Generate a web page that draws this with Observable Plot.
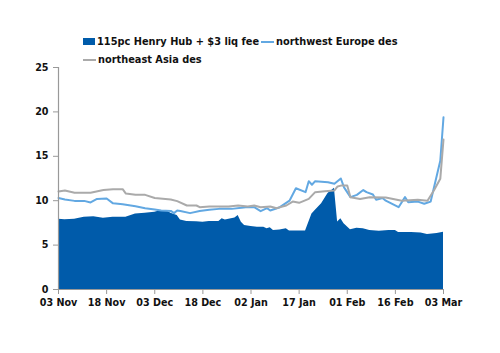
<!DOCTYPE html>
<html>
<head>
<meta charset="utf-8">
<script src="https://cdn.jsdelivr.net/npm/d3@7"></script>
<script src="https://cdn.jsdelivr.net/npm/@observablehq/plot@0.6"></script>
<style>
  html, body { margin: 0; padding: 0; background: #fff; }
  body { width: 500px; height: 353px; overflow: hidden; font-family: "DejaVu Sans", Verdana, sans-serif; }
  #legend { height: 62px; position: relative; font-weight: bold; font-size: 9.8px; color: #111; }
  .item { position: absolute; display: flex; align-items: center; white-space: nowrap; }
  .sw { display: inline-block; margin-right: 2px; }
</style>
</head>
<body>
<div id="legend"></div>
<div id="chart"></div>
<script>
// ---- data (day offsets from 03 Nov) ----
const startDate = new Date(2022, 10, 3);
const seriesNames = ["115pc Henry Hub + $3 liq fee", "northwest Europe des", "northeast Asia des"];
const seriesColors = ["#005BAA", "#62A8E2", "#AAAAAA"];

const hhDays = [0,2,5,8,11,14,17,21,24,27,30,32,34,35,37,38,40,43,45,47,50,51,52,55,56,57,58,60,62,64,65,66,67,69,71,72,77,79,80,82,84,86,87,88,89,91,93,95,97,100,103,105,106,110,113,115,118,120];
const hhVals = [7.92,7.85,7.92,8.15,8.2,8.03,8.15,8.15,8.5,8.6,8.7,8.9,8.8,8.6,8.33,7.84,7.66,7.62,7.58,7.66,7.66,7.96,7.84,8.05,8.33,7.58,7.2,7.1,7.0,7.0,6.83,6.95,6.64,6.7,6.83,6.6,6.6,8.5,8.9,9.65,10.8,11.4,7.6,7.96,7.4,6.72,6.9,6.83,6.64,6.57,6.64,6.64,6.42,6.42,6.37,6.19,6.3,6.45];

const nweDays = [0,2,5,8,10,12,15,17,20,24,27,30,32,35,36,37,38,41,44,47,50,54,57,59,61,63,65,66,69,72,74,77,78,79,80,84,86,88,89,91,93,95,96,98,99,101,102,106,108,109,112,114,116,119,120];
const nweVals = [10.3,10.13,9.98,9.98,9.8,10.2,10.25,9.7,9.6,9.38,9.15,9.0,8.9,8.85,8.6,8.9,8.85,8.6,8.85,8.97,9.08,9.08,9.2,9.3,9.27,8.82,9.16,8.9,9.27,10.0,11.4,10.96,12.2,11.8,12.2,12.08,11.9,12.5,11.5,10.4,10.66,11.2,10.96,10.7,10.1,10.3,10.0,9.27,10.4,9.83,9.9,9.65,9.9,14.5,19.4];

const neaDays = [0,2,5,10,14,17,20,21,24,27,30,35,37,40,43,44,47,53,56,59,61,63,66,68,71,73,75,78,80,83,86,87,88,90,91,94,97,102,107,112,115,117,119,120];
const neaVals = [11.04,11.15,10.9,10.9,11.2,11.3,11.3,10.8,10.66,10.66,10.3,10.13,9.95,9.46,9.46,9.27,9.35,9.35,9.46,9.35,9.46,9.27,9.35,9.16,9.46,9.9,9.76,10.2,10.96,11.07,11.15,11.6,11.7,11.7,10.4,10.2,10.4,10.35,10.0,10.1,10.0,11.15,12.46,16.9];

const tickDays = [0,15,30,45,60,75,90,105,120];
const tickLabels = ["03 Nov","18 Nov","03 Dec","18 Dec","02 Jan","17 Jan","01 Feb","16 Feb","03 Mar"];
const yTicks = [0,5,10,15,20,25];

// ---- build ----
const toDate = d => d3.timeDay.offset(startDate, d);
const mk = (days, vals) => days.map((d, i) => ({date: toDate(d), value: vals[i]}));
const hh = mk(hhDays, hhVals);
const nwe = mk(nweDays, nweVals);
const nea = mk(neaDays, neaVals);
const tickDates = tickDays.map(toDate);
const labelOf = new Map(tickDates.map((d, i) => [+d, tickLabels[i]]));

// legend
const legend = document.getElementById("legend");
const items = [
  {name: seriesNames[0], color: seriesColors[0], type: "rect", left: 83, top: 36},
  {name: seriesNames[1], color: seriesColors[1], type: "line", left: 261, top: 36},
  {name: seriesNames[2], color: seriesColors[2], type: "line", left: 83, top: 54}
];
for (const it of items) {
  const div = document.createElement("div");
  div.className = "item";
  div.style.left = it.left + "px";
  div.style.top = it.top + "px";
  const sw = document.createElement("span");
  sw.className = "sw";
  if (it.type === "rect") { sw.style.width = "12px"; sw.style.height = "7px"; sw.style.background = it.color; }
  else { sw.style.width = "13px"; sw.style.height = "2px"; sw.style.background = it.color; }
  div.appendChild(sw);
  const t = document.createElement("span");
  t.textContent = it.name;
  div.appendChild(t);
  legend.appendChild(div);
}

const chart = Plot.plot({
  width: 500,
  height: 291,
  marginTop: 5,
  marginBottom: 64,
  marginLeft: 58,
  marginRight: 57,
  style: {fontFamily: "DejaVu Sans, Verdana, sans-serif", fontSize: "9.6px", fontWeight: "bold", color: "#111"},
  x: {type: "time", domain: [toDate(0), toDate(120)]},
  y: {domain: [0, 25]},
  marks: [
    Plot.areaY(hh, {x: "date", y: "value", fill: seriesColors[0], curve: "linear"}),
    Plot.line(nwe, {x: "date", y: "value", stroke: seriesColors[1], strokeWidth: 2}),
    Plot.line(nea, {x: "date", y: "value", stroke: seriesColors[2], strokeWidth: 2}),
    Plot.ruleX([toDate(0)], {y1: 0, y2: 25, stroke: "#999", strokeWidth: 1.2}),
    Plot.ruleY([0], {stroke: "#999", strokeWidth: 1.2}),
    Plot.axisY({ticks: yTicks, tickSize: 5, tickPadding: 5, stroke: "#999", label: null}),
    Plot.axisX({ticks: tickDates, tickSize: 5, tickPadding: 5, stroke: "#999", label: null, tickFormat: d => labelOf.get(+d)})
  ]
});
document.getElementById("chart").appendChild(chart);
</script>
</body>
</html>
